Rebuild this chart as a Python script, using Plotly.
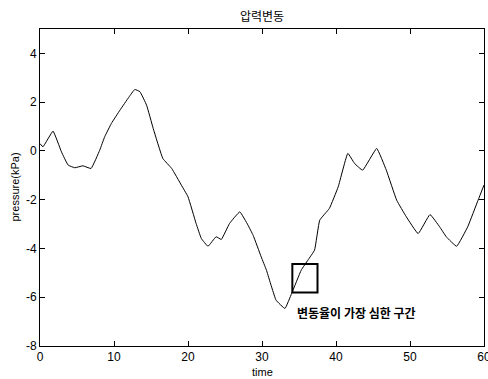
import plotly.graph_objects as go

time = [0.0, 0.4, 1.76, 2.9, 3.8, 4.7, 5.8, 6.9, 8.07, 8.74, 9.65, 10.8, 12.0, 12.8, 13.5, 14.4, 15.3,
        16.6, 17.8, 19.1, 20.0, 21.1, 21.8, 22.7, 23.8, 24.5, 25.6, 27.0, 28.1, 28.8, 29.9,
        30.6, 31.9, 33.1, 34.0, 35.3, 36.2, 37.1, 37.8, 39.1, 40.3, 41.6, 42.5, 43.6, 45.5,
        46.8, 48.2, 49.5, 51.1, 52.7, 54.0, 54.9, 56.3, 57.8, 59.2, 60.0]
pressure = [0.3, 0.17, 0.81, -0.04, -0.58, -0.69, -0.61, -0.72, 0.03, 0.58, 1.13, 1.67, 2.2, 2.52, 2.43, 1.88, 0.92,
            -0.31, -0.72, -1.40, -1.88, -2.98, -3.59, -3.91, -3.52, -3.63, -2.98, -2.50, -3.04, -3.46, -4.35,
            -4.89, -6.12, -6.46, -5.85, -4.89, -4.48, -4.07, -2.84, -2.36, -1.47, -0.10, -0.51, -0.79, 0.10,
            -0.79, -2.02, -2.70, -3.39, -2.61, -3.11, -3.52, -3.91, -3.11, -2.02, -1.40]

box_x = [34.1, 37.5]
box_y = [-5.81, -4.64]
note_text = "변동율이 가장 심한 구간"
note_pos = [34.5, -6.63]

x_ticks = [0, 10, 20, 30, 40, 50, 60]
y_ticks = [-8, -6, -4, -2, 0, 2, 4]

LAT = "Liberation Sans, Arial"

fig = go.Figure()
fig.add_trace(go.Scatter(x=time, y=pressure, mode="lines",
                         line=dict(color="black", width=1, shape="spline", smoothing=0.3),
                         showlegend=False, hoverinfo="skip"))

fig.add_shape(type="rect", x0=box_x[0], x1=box_x[1], y0=box_y[0], y1=box_y[1],
              xref="x", yref="y", line=dict(color="black", width=2))
fig.add_annotation(x=note_pos[0], y=note_pos[1], text=note_text, showarrow=False,
                   xanchor="left", yanchor="middle",
                   font=dict(family="Noto Sans CJK KR", size=12, color="black", weight=600))

fig.add_annotation(x=0.5, y=0, xref="paper", yref="paper", text="time", showarrow=False,
                   xanchor="center", yanchor="middle", yshift=-26,
                   font=dict(family=LAT, size=11, color="black"))
fig.add_annotation(x=0, y=0.5, xref="paper", yref="paper", text="pressure(kPa)", showarrow=False,
                   xanchor="center", yanchor="middle", xshift=-26, textangle=-90,
                   font=dict(family=LAT, size=11, color="black"))
fig.add_annotation(x=0.5, y=1, xref="paper", yref="paper", text="압력변동", showarrow=False,
                   xanchor="center", yanchor="middle", yshift=14,
                   font=dict(family="Noto Sans CJK KR", size=12, color="black"))

axis_common = dict(showline=True, linecolor="black", linewidth=1, mirror="allticks",
                   ticks="inside", ticklen=5, tickcolor="black", showgrid=False, zeroline=False,
                   automargin=False, ticklabeloverflow="allow",
                   tickfont=dict(family=LAT, size=12, color="black"))

fig.update_xaxes(range=[0, 60], tickvals=x_ticks, ticktext=[str(v) for v in x_ticks], **axis_common)
fig.update_yaxes(range=[-8, 5], tickvals=y_ticks, ticktext=[str(v) for v in y_ticks], **axis_common)

fig.update_layout(
    width=488, height=379,
    margin=dict(l=40, r=4, t=29, b=33, autoexpand=False),
    paper_bgcolor="white", plot_bgcolor="white",
)

fig.write_html("out.html", config={"displayModeBar": False},
               post_script="document.body.style.margin='0';document.body.style.overflow='hidden';")
